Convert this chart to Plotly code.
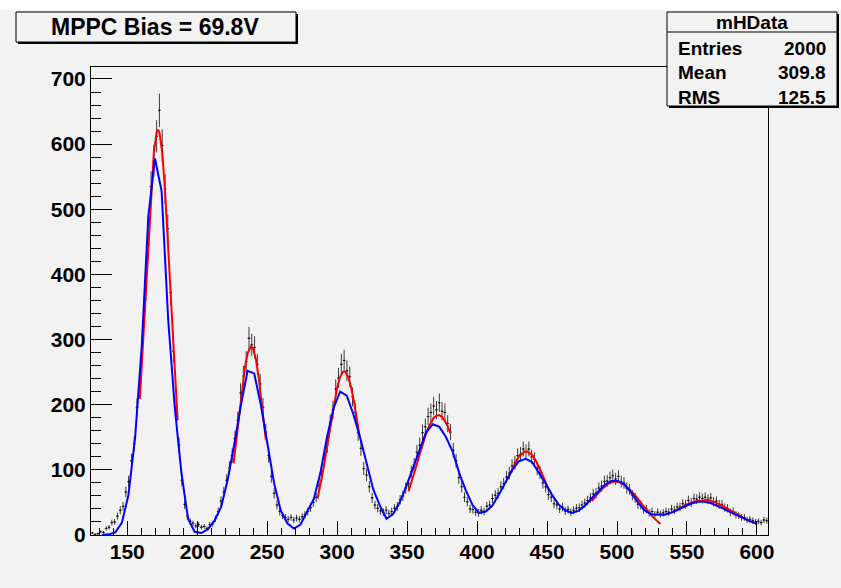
import numpy as np
import plotly.graph_objects as go

# ---------------- data ----------------
bin_low, bin_high, bin_width = 124, 608, 2
counts = [
    3, 1, 2, 5, 4, 10, 12, 19, 20, 29,
    38, 44, 66, 82, 114, 140, 196, 232, 306, 362,
    446, 535, 574, 612, 652, 598, 531, 470, 372, 282,
    195, 138, 84, 47, 29, 21, 18, 14, 16, 12,
    13, 10, 16, 17, 25, 36, 52, 66, 84, 103,
    122, 148, 176, 218, 244, 266, 302, 292, 288, 262,
    232, 196, 158, 122, 90, 64, 46, 36, 30, 27,
    24, 27, 23, 26, 24, 28, 31, 36, 42, 50,
    58, 76, 93, 118, 138, 172, 192, 224, 241, 262,
    268, 252, 243, 212, 188, 157, 133, 102, 92, 74,
    57, 46, 41, 37, 35, 38, 33, 36, 41, 44,
    54, 60, 72, 79, 97, 108, 127, 138, 157, 166,
    182, 188, 198, 192, 203, 190, 188, 171, 158, 130,
    114, 88, 74, 58, 51, 40, 39, 35, 34, 38,
    36, 44, 46, 56, 61, 64, 74, 79, 89, 95,
    106, 111, 122, 124, 132, 128, 132, 120, 116, 102,
    96, 80, 74, 62, 58, 48, 46, 40, 43, 37,
    39, 35, 38, 41, 42, 46, 49, 53, 57, 63,
    64, 72, 75, 82, 83, 88, 91, 86, 90, 82,
    80, 72, 70, 61, 57, 47, 46, 39, 40, 34,
    36, 31, 35, 32, 34, 36, 35, 40, 38, 43,
    43, 48, 47, 53, 50, 56, 55, 58, 56, 58,
    55, 57, 51, 52, 47, 47, 42, 41, 35, 36,
    31, 30, 27, 27, 23, 24, 22, 20, 21, 19,
    23, 22,
]

# total fit (blue), sampled on 100 points between 132 and 600
total_fit_range = (132, 600)
total_fit = [
    0, 1, 4, 19, 62, 150, 290, 490, 578, 528,
    330, 195, 95, 25, 5, 3, 9, 22, 43, 85,
    140, 200, 252, 248, 200, 140, 80, 38, 18, 10,
    16, 36, 55, 95, 150, 195, 220, 214, 185, 150,
    110, 70, 45, 25, 32, 50, 75, 103, 133, 158,
    170, 166, 150, 128, 95, 68, 46, 34, 36, 45,
    62, 82, 100, 113, 117, 112, 97, 80, 62, 47,
    38, 34, 37, 45, 56, 67, 77, 83, 83, 77,
    65, 50, 38, 32, 31, 31, 34, 39, 44, 48,
    51, 51, 49, 45, 40, 35, 30, 25, 21, 17,
]

# single-peak fits (red)
peak_fits = [
    ([159, 161, 163, 165, 167, 169, 171, 172, 173, 175, 177, 179, 181, 183, 185, 186],
     [209, 285, 369, 453, 529, 587, 618, 622, 618, 587, 529, 453, 369, 285, 209, 176]),
    ([226, 228, 230, 232, 234, 236, 238, 238.5, 240, 242, 244, 246, 248, 249],
     [110, 147, 186, 223, 256, 279, 290, 290, 286, 269, 241, 205, 166, 147]),
    ([286, 288, 290, 292, 294, 296, 298, 300, 302, 304, 305, 306, 308, 310, 312, 314, 316],
     [56, 76, 99, 125, 152, 179, 205, 226, 242, 250, 251, 250, 242, 226, 205, 179, 152]),
    ([351, 353, 355, 357, 359, 361, 363, 365, 367, 369, 371, 372.3, 373, 375, 377, 379, 381],
     [67, 80, 95, 109, 124, 139, 152, 164, 173, 180, 183, 184, 184, 181, 175, 167, 156]),
    ([422, 424, 426, 428, 430, 432, 434, 435, 436, 438, 440, 442, 444, 446, 448, 450, 451.5],
     [86, 96, 106, 114, 121, 125, 128, 128, 128, 125, 121, 114, 106, 96, 86, 75, 67]),
    ([482, 486, 490, 494, 498, 499, 502, 506, 510, 514, 518, 522, 526, 530, 531],
     [52, 63, 72, 79, 82, 82, 81, 76, 68, 58, 47, 36, 27, 19, 17]),
    ([540, 545, 550, 555, 560, 563, 566, 570, 575, 580, 585, 590],
     [35, 41, 47, 51, 53, 53.5, 53, 50, 45, 39, 33, 27]),
]

title_text = "MPPC Bias = 69.8V"
stats_name = "mHData"
stats_rows = [("Entries", "2000"), ("Mean", "309.8"), ("RMS", "125.5")]

x_range = [124.1, 607.9]
y_range = [0, 718.4]

# ---------------- figure ----------------
centers = np.arange(bin_low + bin_width / 2, bin_high, bin_width)
vals = np.array(counts, dtype=float)
errs = np.sqrt(vals)
fit_x = np.linspace(total_fit_range[0], total_fit_range[1], len(total_fit))

BG = "#f2f2f2"
FONT = "Liberation Sans, Arial, Helvetica, sans-serif"

fig = go.Figure()
fig.add_trace(go.Scatter(
    x=centers, y=vals, mode="markers",
    marker=dict(size=1.5, color="black"),
    error_y=dict(type="data", array=errs, visible=True, width=0, thickness=1, color="#3a3a3a"),
    error_x=dict(type="constant", value=bin_width / 2, visible=True, width=0, thickness=1, color="#3a3a3a"),
    hoverinfo="x+y", showlegend=False,
))
for fx, fy in peak_fits:
    fig.add_trace(go.Scatter(x=fx, y=fy, mode="lines",
                             line=dict(color="#ff0000", width=2), showlegend=False))
fig.add_trace(go.Scatter(x=fit_x, y=total_fit, mode="lines",
                         line=dict(color="#0000ff", width=2), showlegend=False))

axis_font = dict(family=FONT, size=21, color="black", weight="bold")
fig.update_xaxes(
    range=x_range, tick0=150, dtick=50, ticks="inside", ticklen=14, tickwidth=1,
    tickcolor="black", showline=True, linecolor="black", linewidth=1, mirror=True,
    showgrid=False, zeroline=False, tickfont=axis_font, automargin=False,
    ticklabelstandoff=-2,
    minor=dict(tick0=0, dtick=10, ticks="inside", ticklen=7, tickwidth=1,
               tickcolor="black", showgrid=False),
)
fig.update_yaxes(
    range=y_range, tick0=0, dtick=100, ticks="inside", ticklen=21, tickwidth=1,
    tickcolor="black", showline=True, linecolor="black", linewidth=1, mirror=True,
    showgrid=False, zeroline=False, tickfont=axis_font, automargin=False,
    minor=dict(tick0=0, dtick=20, ticks="inside", ticklen=10, tickwidth=1,
               tickcolor="black", showgrid=False),
)

L, R, T, B = 91, 73, 67, 53
W, H = 841, 588
pw, ph = W - L - R, H - T - B


def px(x):
    return (x - L) / pw


def py(y):
    return (H - B - y) / ph


shapes = []
# white strip along the very top of the canvas
shapes.append(dict(type="rect", xref="paper", yref="paper", layer="above",
                   x0=px(0), x1=px(W), y0=py(10), y1=py(0),
                   line=dict(width=0), fillcolor="#ffffff"))
# title box with shadow
shapes.append(dict(type="rect", xref="paper", yref="paper", layer="above",
                   x0=px(18), x1=px(298), y0=py(44), y1=py(14),
                   line=dict(width=0), fillcolor="#000000"))
shapes.append(dict(type="rect", xref="paper", yref="paper", layer="above",
                   x0=px(16), x1=px(296), y0=py(42), y1=py(12),
                   line=dict(width=1, color="black"), fillcolor=BG))
# stats box with shadow
shapes.append(dict(type="rect", xref="paper", yref="paper", layer="above",
                   x0=px(669), x1=px(839), y0=py(108), y1=py(14),
                   line=dict(width=0), fillcolor="#000000"))
shapes.append(dict(type="rect", xref="paper", yref="paper", layer="above",
                   x0=px(667), x1=px(837), y0=py(106), y1=py(12),
                   line=dict(width=1, color="black"), fillcolor=BG))
shapes.append(dict(type="line", xref="paper", yref="paper", layer="above",
                   x0=px(667), x1=px(837), y0=py(32), y1=py(32),
                   line=dict(width=1, color="black")))

annotations = [
    dict(text=title_text, xref="paper", yref="paper", x=px(155), y=py(27),
         xanchor="center", yanchor="middle", showarrow=False,
         font=dict(family=FONT, size=23, color="black", weight="bold")),
    dict(text=stats_name, xref="paper", yref="paper", x=px(752), y=py(23),
         xanchor="center", yanchor="middle", showarrow=False,
         font=dict(family=FONT, size=19, color="black", weight="bold")),
]
row_y = [49, 73, 97]
for (lab, val), ry in zip(stats_rows, row_y):
    annotations.append(dict(text=lab, xref="paper", yref="paper", x=px(676), y=py(ry),
                            xanchor="left", yanchor="middle", showarrow=False,
                            font=dict(family=FONT, size=19, color="black", weight="bold")))
    annotations.append(dict(text=val, xref="paper", yref="paper", x=px(828), y=py(ry),
                            xanchor="right", yanchor="middle", showarrow=False,
                            font=dict(family=FONT, size=19, color="black", weight="bold")))

fig.update_layout(
    width=W, height=H,
    margin=dict(l=L, r=R, t=T, b=B, autoexpand=False),
    paper_bgcolor=BG, plot_bgcolor=BG,
    shapes=shapes, annotations=annotations,
    showlegend=False,
)

fig.write_html(
    "out.html",
    config={"displayModeBar": False},
    post_script="document.body.style.margin='0';document.body.style.overflow='hidden';",
)
